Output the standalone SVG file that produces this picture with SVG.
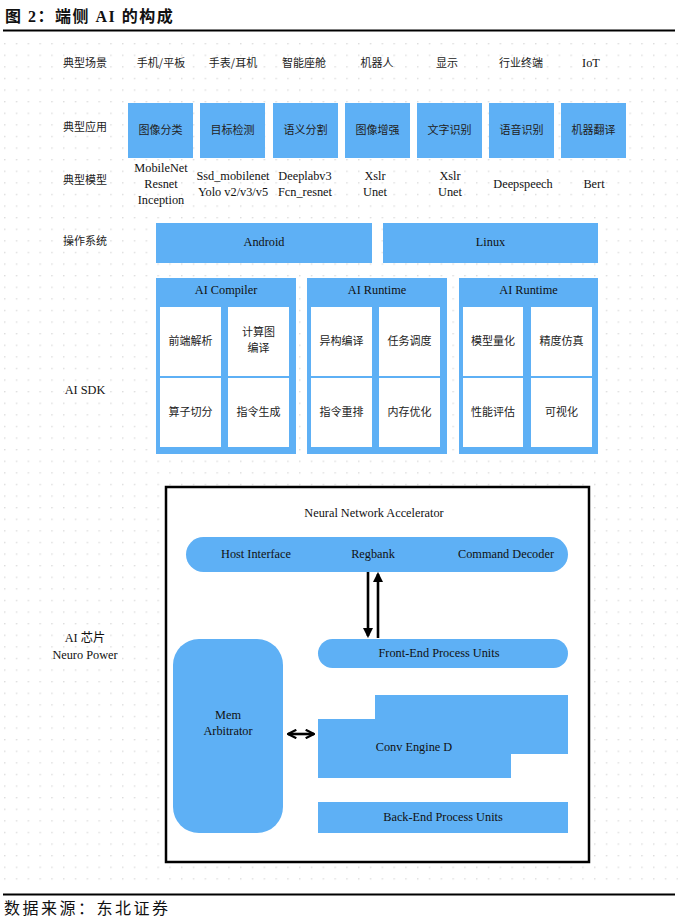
<svg xmlns="http://www.w3.org/2000/svg" width="678" height="920" viewBox="0 0 678 920">
<defs>
<pattern id="dots" x="4" y="43" width="11.8" height="11.6" patternUnits="userSpaceOnUse">
<circle cx="0.8" cy="0.8" r="0.75" fill="#d2d2d2"/>
</pattern>
<marker id="ah" viewBox="0 0 10 10" refX="8" refY="5" markerWidth="4" markerHeight="4" orient="auto-start-reverse">
<path d="M0,0 L10,5 L0,10 Z" fill="#000"/>
</marker>
<marker id="ah2" viewBox="0 0 10 10" refX="9" refY="5" markerWidth="4" markerHeight="4" orient="auto-start-reverse">
<path d="M1,1 L9,5 L1,9" fill="none" stroke="#000" stroke-width="2.2"/>
</marker>
</defs>
<style>
.zh{font-family:"Noto Sans CJK SC","Noto Sans",sans-serif;font-size:11px;fill:#222;text-anchor:middle}
.en{font-family:"Liberation Serif","Noto Sans CJK SC",serif;font-size:12.3px;fill:#111;text-anchor:middle}
.blue{fill:#5eb0f5}
.cell{fill:#fff}
.conn{stroke:#000;stroke-width:2.6;fill:none}
</style>
<rect x="0" y="0" width="678" height="920" fill="#fff"/>
<rect x="0" y="38" width="678" height="848" fill="url(#dots)"/>

<g id="title">
<text x="5" y="22" style="font-family:'Liberation Serif','Noto Sans CJK SC',serif;font-size:16px;font-weight:bold;fill:#111;letter-spacing:1.5px">图 2：端侧 AI 的构成</text>
<line x1="3" y1="30.5" x2="675" y2="30.5" stroke="#000" stroke-width="2"/>
</g>

<g id="row-labels">
<text class="zh" x="85" y="67">典型场景</text>
<text class="zh" x="85" y="131">典型应用</text>
<text class="zh" x="85" y="184">典型模型</text>
<text class="zh" x="85" y="245">操作系统</text>
<text class="en" x="85" y="394">AI SDK</text>
<text class="en" x="85" y="642">AI 芯片</text>
<text class="en" x="85" y="659">Neuro Power</text>
</g>

<g id="scenes">
<text class="zh" x="161" y="67">手机/平板</text>
<text class="zh" x="233" y="67">手表/耳机</text>
<text class="zh" x="304" y="67">智能座舱</text>
<text class="zh" x="377" y="67">机器人</text>
<text class="zh" x="447" y="67">显示</text>
<text class="zh" x="521" y="67">行业终端</text>
<text class="en" x="591" y="67">IoT</text>
</g>

<g id="apps">
<g id="app1"><rect class="blue" x="128" y="103" width="65" height="55"/><text class="zh" x="160.5" y="134">图像分类</text></g>
<g id="app2"><rect class="blue" x="200" y="103" width="65" height="55"/><text class="zh" x="232.5" y="134">目标检测</text></g>
<g id="app3"><rect class="blue" x="273" y="103" width="65" height="55"/><text class="zh" x="305.5" y="134">语义分割</text></g>
<g id="app4"><rect class="blue" x="345" y="103" width="65" height="55"/><text class="zh" x="377.5" y="134">图像增强</text></g>
<g id="app5"><rect class="blue" x="417" y="103" width="65" height="55"/><text class="zh" x="449.5" y="134">文字识别</text></g>
<g id="app6"><rect class="blue" x="489" y="103" width="65" height="55"/><text class="zh" x="521.5" y="134">语音识别</text></g>
<g id="app7"><rect class="blue" x="561" y="103" width="65" height="55"/><text class="zh" x="593.5" y="134">机器翻译</text></g>
</g>

<g id="models">
<text class="en" x="161" y="172">MobileNet</text>
<text class="en" x="161" y="188">Resnet</text>
<text class="en" x="161" y="204">Inception</text>
<text class="en" x="233" y="180">Ssd_mobilenet</text>
<text class="en" x="233" y="196">Yolo v2/v3/v5</text>
<text class="en" x="305" y="180">Deeplabv3</text>
<text class="en" x="305" y="196">Fcn_resnet</text>
<text class="en" x="375" y="180">Xslr</text>
<text class="en" x="375" y="196">Unet</text>
<text class="en" x="450" y="180">Xslr</text>
<text class="en" x="450" y="196">Unet</text>
<text class="en" x="523" y="188">Deepspeech</text>
<text class="en" x="594" y="188">Bert</text>
</g>

<g id="os">
<g id="android"><rect class="blue" x="156" y="223" width="216" height="40"/><text class="en" x="264" y="246">Android</text></g>
<g id="linux"><rect class="blue" x="383" y="223" width="215" height="40"/><text class="en" x="490.5" y="246">Linux</text></g>
</g>

<g id="sdk-compiler">
<rect class="blue" x="156" y="278" width="140" height="176"/>
<text class="en" x="226" y="294">AI Compiler</text>
<rect class="cell" x="160" y="307" width="61" height="69"/>
<rect class="cell" x="228" y="307" width="61" height="69"/>
<rect class="cell" x="160" y="378" width="61" height="69"/>
<rect class="cell" x="228" y="378" width="61" height="69"/>
<text class="zh" x="190.5" y="345">前端解析</text>
<text class="zh" x="258.5" y="336">计算图</text>
<text class="zh" x="258.5" y="352">编译</text>
<text class="zh" x="190.5" y="416">算子切分</text>
<text class="zh" x="258.5" y="416">指令生成</text>
</g>

<g id="sdk-runtime1">
<rect class="blue" x="307" y="278" width="140" height="176"/>
<text class="en" x="377" y="294">AI Runtime</text>
<rect class="cell" x="311" y="307" width="61" height="69"/>
<rect class="cell" x="379" y="307" width="61" height="69"/>
<rect class="cell" x="311" y="378" width="61" height="69"/>
<rect class="cell" x="379" y="378" width="61" height="69"/>
<text class="zh" x="341.5" y="345">异构编译</text>
<text class="zh" x="409.5" y="345">任务调度</text>
<text class="zh" x="341.5" y="416">指令重排</text>
<text class="zh" x="409.5" y="416">内存优化</text>
</g>

<g id="sdk-runtime2">
<rect class="blue" x="459" y="278" width="139" height="176"/>
<text class="en" x="528.5" y="294">AI Runtime</text>
<rect class="cell" x="463" y="307" width="60" height="69"/>
<rect class="cell" x="531" y="307" width="61" height="69"/>
<rect class="cell" x="463" y="378" width="60" height="69"/>
<rect class="cell" x="531" y="378" width="61" height="69"/>
<text class="zh" x="493" y="345">模型量化</text>
<text class="zh" x="561.5" y="345">精度仿真</text>
<text class="zh" x="493" y="416">性能评估</text>
<text class="zh" x="561.5" y="416">可视化</text>
</g>

<g id="npu">
<rect x="166" y="487" width="423" height="375" fill="#fff" stroke="#000" stroke-width="2.5"/>
<text class="en" x="374" y="517">Neural Network Accelerator</text>
</g>

<g id="host-bar">
<rect class="blue" x="186" y="537" width="382" height="35" rx="17.5"/>
<text class="en" x="256" y="558">Host Interface</text>
<text class="en" x="373" y="558">Regbank</text>
<text class="en" x="506" y="558">Command Decoder</text>
</g>

<g id="front-end">
<rect class="blue" x="318" y="639" width="250" height="29" rx="14.5"/>
<text class="en" x="439" y="657">Front-End Process Units</text>
</g>

<g id="mem-arbitrator">
<rect class="blue" x="173" y="639" width="110" height="194" rx="26"/>
<text class="en" x="228" y="719">Mem</text>
<text class="en" x="228" y="735">Arbitrator</text>
</g>

<g id="conv-engine">
<path class="blue" d="M375,695 H568 V754 H511 V778 H318 V719 H375 Z"/>
<text class="en" x="414" y="751">Conv Engine D</text>
</g>

<g id="back-end">
<rect class="blue" x="318" y="802" width="250" height="31"/>
<text class="en" x="443" y="821">Back-End Process Units</text>
</g>

<g id="connectors">
<line class="conn" x1="368" y1="572" x2="368" y2="636" marker-end="url(#ah)"/>
<line class="conn" x1="378" y1="638" x2="378" y2="574" marker-end="url(#ah)"/>
<line class="conn" x1="288" y1="734" x2="314" y2="734" marker-start="url(#ah2)" marker-end="url(#ah2)"/>
</g>

<g id="footer">
<line x1="3" y1="894.5" x2="675" y2="894.5" stroke="#000" stroke-width="2"/>
<text x="4" y="914" style="font-family:'Liberation Serif','Noto Sans CJK SC',serif;font-size:16px;fill:#111;letter-spacing:2.5px">数据来源：东北证券</text>
</g>
</svg>
